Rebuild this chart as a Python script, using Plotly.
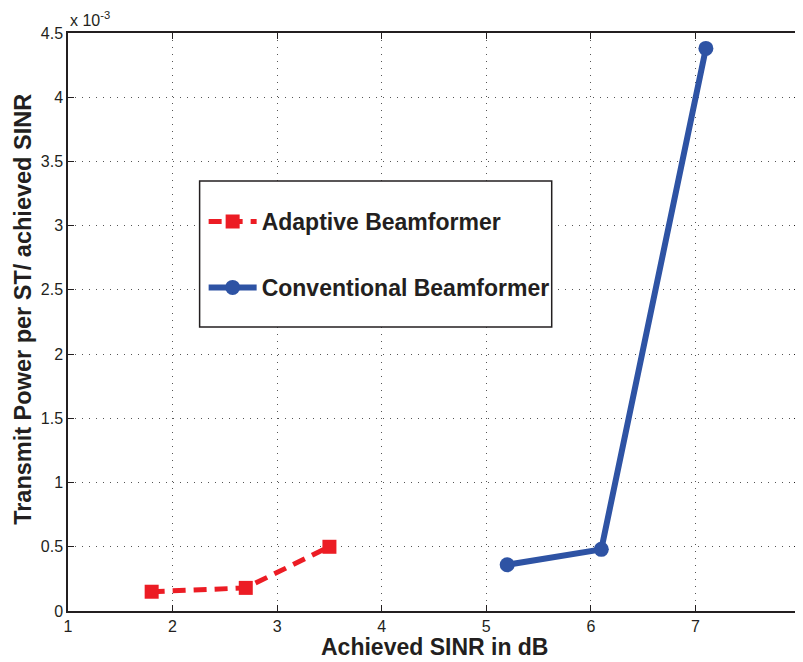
from plotly import graph_objects as plgo

# values (power in W, SINR in dB)
adaptive_sinr = [1.8, 2.7, 3.5]
adaptive_power = [0.15e-3, 0.18e-3, 0.50e-3]
conventional_sinr = [5.2, 6.1, 7.1]
conventional_power = [0.36e-3, 0.48e-3, 4.38e-3]

x_ticks = [1, 2, 3, 4, 5, 6, 7, 8]
y_ticks = [0, 0.5e-3, 1e-3, 1.5e-3, 2e-3, 2.5e-3, 3e-3, 3.5e-3, 4e-3, 4.5e-3]
y_tick_text = ['0', '0.5', '1', '1.5', '2', '2.5', '3', '3.5', '4', '4.5']

ink = '#231F20'
font_family = 'Liberation Sans, Arial, sans-serif'

fig = plgo.Figure()
fig.add_scatter(x=adaptive_sinr, y=adaptive_power, name='Adaptive Beamformer',
                mode='lines+markers', legendgroup='a',
                line=dict(color='#EC1C24', width=5, dash='13px,8px'),
                marker=dict(symbol='square', size=14, color='#EC1C24'))
fig.add_scatter(x=conventional_sinr, y=conventional_power, name='Conventional Beamformer',
                mode='lines+markers', legendgroup='c',
                line=dict(color='#2E53A4', width=6),
                marker=dict(symbol='circle', size=15, color='#2E53A4'))

axis_common = dict(showline=True, linecolor=ink, linewidth=1.5, mirror='allticks',
                   ticks='inside', ticklen=6, tickcolor=ink,
                   showgrid=True, gridcolor='#555555', gridwidth=1, griddash='1px,6px',
                   zeroline=False, tickfont=dict(family=font_family, size=16, color=ink))

fig.update_xaxes(range=[1, 8], tickvals=x_ticks, **axis_common)
fig.update_yaxes(range=[0, 4.5e-3], tickvals=y_ticks, ticktext=y_tick_text, **axis_common)

# axis titles as annotations so they sit where the reference has them
fig.add_annotation(xref='paper', yref='paper', x=0.5, y=0, xanchor='center', yanchor='top',
                   yshift=-21, showarrow=False, text='<b>Achieved SINR in dB</b>',
                   font=dict(family=font_family, size=23, color=ink))
fig.add_annotation(xref='paper', yref='paper', x=0, y=0.521, xanchor='center', yanchor='middle',
                   xshift=-45, textangle=-90, showarrow=False, borderpad=0,
                   text='<b>Transmit Power per ST/ achieved SINR</b>',
                   font=dict(family=font_family, size=23.5, color=ink))

fig.add_annotation(xref='paper', yref='paper', x=0, y=1, xanchor='left', yanchor='bottom',
                   xshift=0, yshift=2, showarrow=False,
                   text='x 10<sup>-3</sup>', font=dict(family=font_family, size=16, color=ink))

# legend frame (the legend itself draws no border)
fig.add_shape(type='rect', xref='paper', yref='paper', x0=0.1798, x1=0.6608, y0=0.4913, y1=0.7439,
              line=dict(color=ink, width=1.5), fillcolor='white', layer='above')

fig.update_layout(
    width=795, height=654,
    margin=dict(l=60, r=1, t=25, b=51),
    paper_bgcolor='white', plot_bgcolor='white',
    showlegend=True,
    legend=dict(x=0.1853, y=0.711, xanchor='left', yanchor='top',
                bgcolor='rgba(0,0,0,0)', borderwidth=0,
                font=dict(family=font_family, size=23, color=ink, weight='bold'),
                itemwidth=48, tracegroupgap=33, traceorder='grouped'),
)

fig.write_html('out.html')
